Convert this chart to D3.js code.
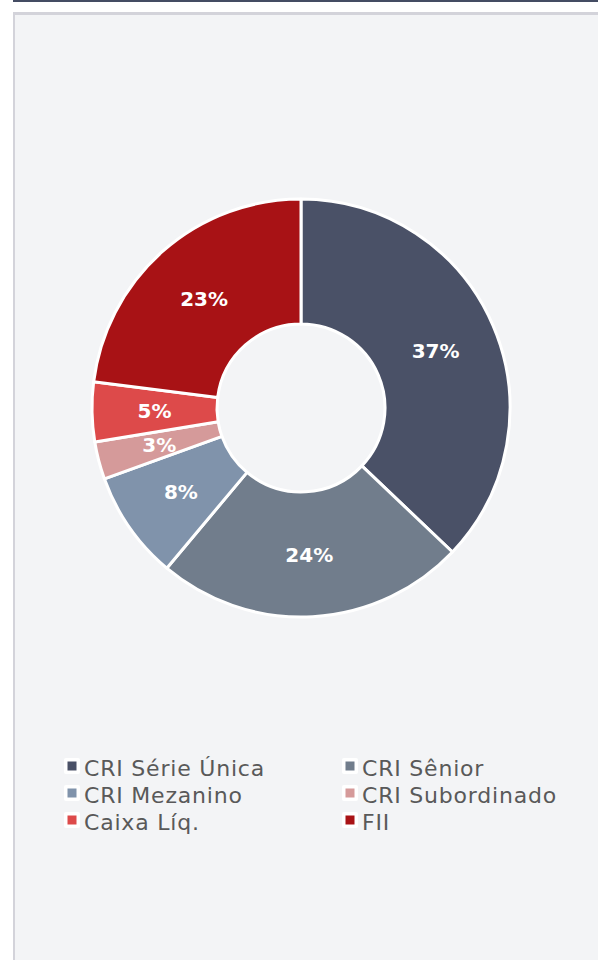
<!DOCTYPE html>
<html>
<head>
<meta charset="utf-8">
<script src="https://cdn.jsdelivr.net/npm/d3@7"></script>
<style>
  html, body { margin: 0; padding: 0; background: #fff; }
  svg { display: block; }
</style>
</head>
<body>
<div id="chart"></div>
<script>
// chart data
const categories = ["CRI Série Única", "CRI Sênior", "CRI Mezanino", "CRI Subordinado", "Caixa Líq.", "FII"];
const shares = [37.1, 24.0, 8.4, 2.9, 4.6, 23.0];
const colors = ["#4a5167", "#717d8c", "#8093ab", "#d59a9a", "#dd4a4a", "#a81215"];

const width = 598, height = 960;
const cx = 301, cy = 408;
const outerR = 209, innerR = 84;

const svg = d3.select("#chart").append("svg")
    .attr("width", width)
    .attr("height", height);

// page frame
svg.append("rect").attr("x", 13).attr("y", 0).attr("width", width - 13).attr("height", 2).attr("fill", "#444c63");
svg.append("rect").attr("x", 13).attr("y", 12).attr("width", width - 13).attr("height", height - 12).attr("fill", "#d3d3da");
svg.append("rect").attr("x", 15).attr("y", 15).attr("width", width - 15).attr("height", height - 15).attr("fill", "#f3f4f6");

// ---------------------------------------------------------------------------
// Donut
// ---------------------------------------------------------------------------

const data = categories.map((c, i) => ({ label: c, value: shares[i], color: colors[i] }));
const pie = d3.pie().value(d => d.value).sort(null);
const arc = d3.arc().innerRadius(innerR).outerRadius(outerR);
const labelArc = d3.arc().innerRadius((innerR + outerR) / 2).outerRadius((innerR + outerR) / 2);

const g = svg.append("g").attr("transform", `translate(${cx},${cy})`);

g.selectAll("path")
    .data(pie(data))
    .join("path")
    .attr("d", arc)
    .attr("fill", d => d.data.color)
    .attr("stroke", "#fff")
    .attr("stroke-width", 3)
    .attr("stroke-linejoin", "round");

g.selectAll("text")
    .data(pie(data))
    .join("text")
    .attr("transform", d => `translate(${labelArc.centroid(d)})`)
    .attr("text-anchor", "middle")
    .attr("dy", "0.38em")
    .attr("font-family", "'DejaVu Sans', sans-serif")
    .attr("font-weight", "bold")
    .attr("font-size", "20px")
    .attr("fill", "#fff")
    .text(d => Math.round(d.data.value) + "%");

// ---------------------------------------------------------------------------
// Legend
// ---------------------------------------------------------------------------

const legendX = [64, 342];
const legendY0 = 766, legendStep = 27;

const items = svg.append("g").selectAll("g")
    .data(data)
    .join("g")
    .attr("transform", (d, i) => `translate(${legendX[i % 2]},${legendY0 + Math.floor(i / 2) * legendStep})`);

items.append("rect")
    .attr("x", 0).attr("y", -8).attr("width", 16).attr("height", 16)
    .attr("rx", 2)
    .attr("fill", "#fff");

items.append("rect")
    .attr("x", 3.5).attr("y", -4.5).attr("width", 9).attr("height", 9)
    .attr("fill", d => d.color);

items.append("text")
    .attr("x", 20)
    .attr("y", 10)
    .attr("font-family", "'DejaVu Sans', sans-serif")
    .attr("font-size", "22px")
    .attr("letter-spacing", "0.8px")
    .attr("fill", "#595959")
    .text(d => d.label);
</script>
</body>
</html>
